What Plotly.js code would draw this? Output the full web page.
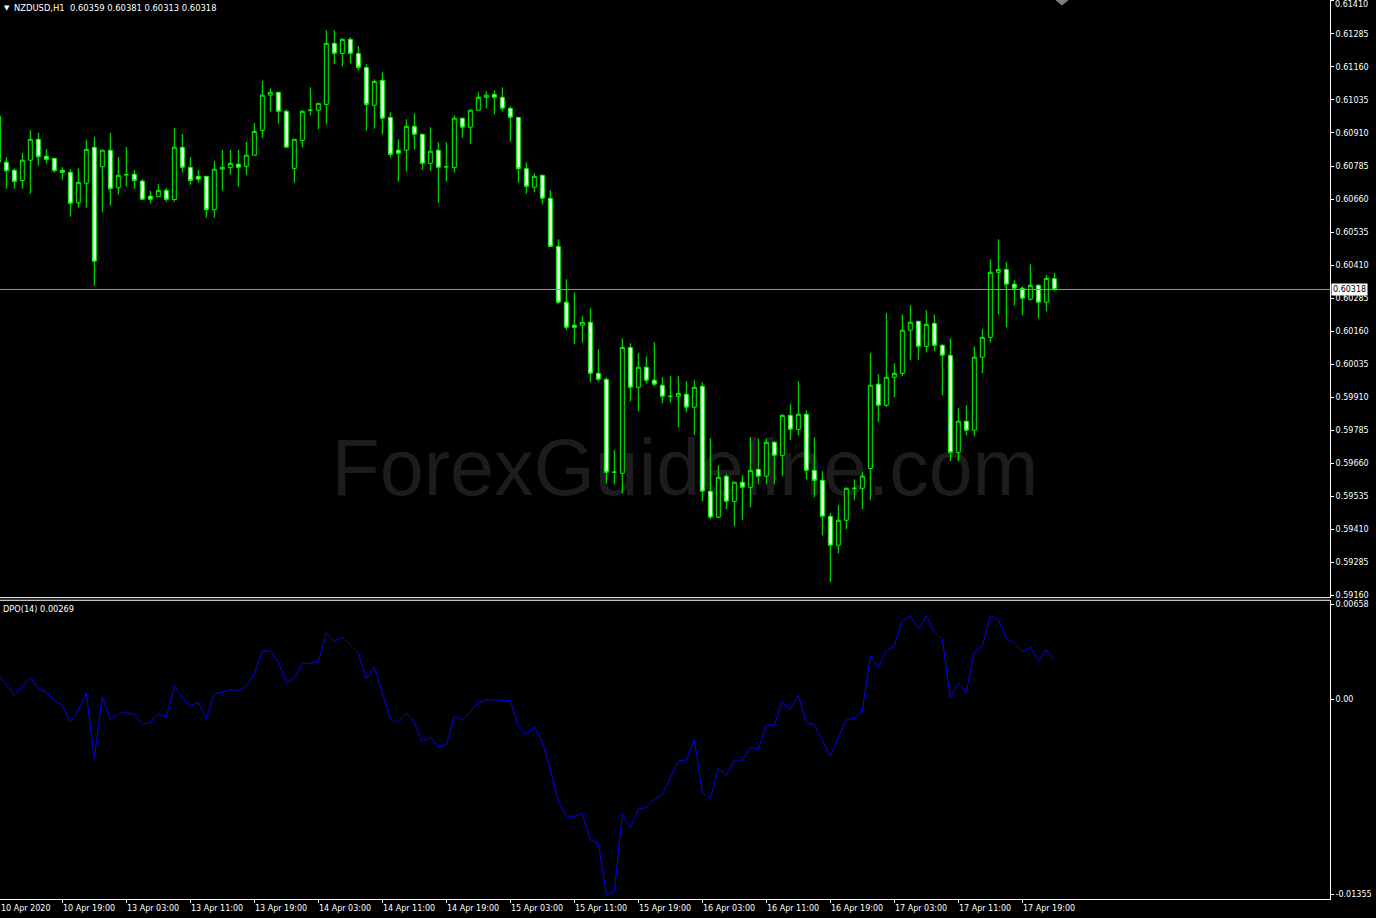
<!DOCTYPE html>
<html>
<head>
<meta charset="utf-8">
<script src="https://cdn.plot.ly/plotly-3.0.1.min.js"></script>
<style>
html,body{margin:0;padding:0;background:#000;overflow:hidden;}
#chart{width:1376px;height:918px;}
</style>
</head>
<body>
<div id="chart"></div>
<script>
// ---- data ----
const symbolTitle = 'NZDUSD,H1';
const lastQuote = ['0.60359', '0.60381', '0.60313', '0.60318'];
const indicatorName = 'DPO(14)';
const indicatorLast = '0.00269';
const firstDateLabel = '10 Apr 2020';

// trading sessions shown (day label, first hour, last hour)
const sessions = [['10 Apr', 11, 23], ['13 Apr', 0, 23], ['14 Apr', 0, 23], ['15 Apr', 0, 23], ['16 Apr', 0, 23], ['17 Apr', 0, 23]];

const openP = [0.60974,0.60799,0.60769,0.60730,0.60807,0.60886,0.60822,0.60814,0.60769,0.60761,0.60646,0.60720,0.60856,
0.60782,0.60845,0.60703,0.60752,0.60754,0.60728,0.60671,0.60669,0.60693,0.60658,0.60856,0.60780,0.60746,0.60746,0.60620,
0.60773,0.60780,0.60792,0.60784,0.60826,0.60920,0.61053,0.61064,0.60992,0.60776,0.60882,0.60996,0.60996,0.61018,0.61249,
0.61211,0.61264,0.61211,0.61158,0.61015,0.61109,0.60969,0.60845,0.60845,0.60935,0.60905,0.60795,0.60845,0.60782,0.60780,
0.60966,0.60932,0.60996,0.61045,0.61056,0.61045,0.61003,0.60969,0.60775,0.60705,0.60750,0.60663,0.60481,0.60270,0.60183,
0.60183,0.60194,0.60001,0.59978,0.59627,0.59623,0.60099,0.59948,0.60024,0.59975,0.59956,0.59914,0.59914,0.59922,0.59873,
0.59952,0.59555,0.59457,0.59612,0.59517,0.59589,0.59570,0.59638,0.59612,0.59740,0.59691,0.59842,0.59789,0.59846,0.59634,
0.59596,0.59460,0.59351,0.59445,0.59566,0.59566,0.59641,0.59960,0.59880,0.59986,0.60001,0.60164,0.60198,0.60103,0.60190,
0.60107,0.60069,0.59702,0.59820,0.59786,0.60062,0.60137,0.60383,0.60394,0.60338,0.60323,0.60281,0.60334,0.60270,0.60359];
const highP = [0.60985,0.60819,0.60776,0.60834,0.60921,0.60910,0.60849,0.60814,0.60781,0.60773,0.60776,0.60883,0.60895,
0.60845,0.60910,0.60819,0.60857,0.60770,0.60736,0.60691,0.60717,0.60702,0.60929,0.60906,0.60819,0.60770,0.60746,0.60804,
0.60846,0.60846,0.60846,0.60876,0.60948,0.61107,0.61079,0.61064,0.60999,0.60886,0.60996,0.61083,0.61022,0.61298,0.61298,
0.61268,0.61272,0.61239,0.61170,0.61113,0.61140,0.60988,0.60886,0.60962,0.60984,0.60905,0.60932,0.60875,0.60875,0.60977,
0.60966,0.60999,0.61064,0.61068,0.61071,0.61083,0.61011,0.60969,0.60799,0.60758,0.60750,0.60693,0.60508,0.60357,0.60307,
0.60217,0.60247,0.60092,0.59986,0.59710,0.60133,0.60115,0.60077,0.60065,0.60118,0.59986,0.59990,0.59990,0.59971,0.59975,
0.59967,0.59755,0.59653,0.59619,0.59589,0.59615,0.59759,0.59755,0.59755,0.59744,0.59846,0.59884,0.59971,0.59861,0.59759,
0.59630,0.59472,0.59502,0.59570,0.59600,0.59627,0.60077,0.59997,0.60228,0.60039,0.60224,0.60258,0.60198,0.60239,0.60224,
0.60111,0.60133,0.59869,0.59880,0.60103,0.60168,0.60432,0.60508,0.60421,0.60353,0.60330,0.60413,0.60338,0.60372,0.60381];
const lowP = [0.60790,0.60699,0.60699,0.60699,0.60680,0.60786,0.60794,0.60760,0.60733,0.60593,0.60627,0.60627,0.60332,
0.60609,0.60635,0.60677,0.60707,0.60699,0.60659,0.60643,0.60669,0.60650,0.60650,0.60760,0.60714,0.60722,0.60590,0.60590,
0.60692,0.60752,0.60707,0.60752,0.60826,0.60892,0.60991,0.60945,0.60856,0.60722,0.60856,0.60977,0.60924,0.60943,0.61170,
0.61162,0.61174,0.61147,0.60919,0.60926,0.60904,0.60818,0.60726,0.60764,0.60847,0.60771,0.60767,0.60646,0.60726,0.60760,
0.60892,0.60869,0.60996,0.61003,0.60981,0.60992,0.60877,0.60722,0.60680,0.60686,0.60640,0.60478,0.60262,0.60164,0.60111,
0.60117,0.59967,0.59971,0.59585,0.59581,0.59547,0.59895,0.59857,0.59963,0.59952,0.59888,0.59891,0.59797,0.59854,0.59767,
0.59517,0.59449,0.59453,0.59487,0.59422,0.59445,0.59494,0.59581,0.59581,0.59581,0.59612,0.59748,0.59767,0.59600,0.59532,
0.59388,0.59211,0.59320,0.59411,0.59521,0.59487,0.59521,0.59816,0.59873,0.59910,0.59990,0.60050,0.60052,0.60080,0.60084,
0.59918,0.59668,0.59668,0.59767,0.59763,0.60001,0.60118,0.60224,0.60175,0.60258,0.60220,0.60277,0.60209,0.60236,0.60313];
const closeP = [0.60799,0.60767,0.60726,0.60807,0.60886,0.60820,0.60810,0.60767,0.60761,0.60644,0.60723,0.60848,0.60425,
0.60845,0.60699,0.60750,0.60752,0.60730,0.60659,0.60659,0.60693,0.60658,0.60856,0.60780,0.60730,0.60735,0.60620,0.60773,
0.60780,0.60795,0.60780,0.60826,0.60916,0.61053,0.61064,0.60992,0.60856,0.60886,0.60992,0.60996,0.61022,0.61249,0.61211,
0.61264,0.61211,0.61158,0.61018,0.61105,0.60966,0.60829,0.60833,0.60935,0.60905,0.60795,0.60841,0.60780,0.60782,0.60966,
0.60932,0.60996,0.61045,0.61053,0.61045,0.61003,0.60969,0.60775,0.60708,0.60746,0.60663,0.60481,0.60270,0.60175,0.60175,
0.60194,0.60001,0.59978,0.59627,0.59627,0.60099,0.59948,0.60024,0.59975,0.59960,0.59914,0.59914,0.59925,0.59873,0.59948,
0.59555,0.59457,0.59608,0.59517,0.59589,0.59570,0.59634,0.59612,0.59740,0.59691,0.59842,0.59789,0.59846,0.59634,0.59596,
0.59460,0.59351,0.59445,0.59566,0.59566,0.59612,0.59956,0.59880,0.59986,0.60001,0.60164,0.60194,0.60103,0.60186,0.60107,
0.60069,0.59702,0.59820,0.59786,0.60062,0.60137,0.60383,0.60394,0.60338,0.60323,0.60285,0.60334,0.60270,0.60360,0.60318];

const dpoValues = [0.00167,0.00102,0.00023,0.00090,0.00152,0.00071,0.00047,-0.00010,-0.00041,-0.00161,-0.00077,0.00043,-0.00412,
0.00019,-0.00144,-0.00101,-0.00094,-0.00108,-0.00173,-0.00165,-0.00101,-0.00125,0.00090,0.00007,-0.00048,-0.00024,-0.00137,
0.00038,0.00047,0.00066,0.00054,0.00090,0.00174,0.00334,0.00334,0.00258,0.00114,0.00143,0.00248,0.00248,0.00258,0.00458,
0.00401,0.00430,0.00377,0.00317,0.00143,0.00219,0.00043,-0.00137,-0.00161,-0.00096,-0.00161,-0.00297,-0.00263,-0.00333,
-0.00316,-0.00120,-0.00144,-0.00089,-0.00024,-0.00005,-0.00005,-0.00010,-0.00013,-0.00185,-0.00244,-0.00192,-0.00297,
-0.00490,-0.00703,-0.00813,-0.00813,-0.00794,-0.00978,-0.01000,-0.01355,-0.01339,-0.00799,-0.00894,-0.00761,-0.00753,
-0.00694,-0.00663,-0.00550,-0.00431,-0.00424,-0.00280,-0.00646,-0.00689,-0.00476,-0.00531,-0.00424,-0.00424,-0.00335,
-0.00347,-0.00177,-0.00180,-0.00024,-0.00072,0.00028,-0.00163,-0.00177,-0.00287,-0.00395,-0.00268,-0.00144,-0.00132,
-0.00084,0.00298,0.00222,0.00334,0.00370,0.00544,0.00578,0.00487,0.00578,0.00466,0.00418,0.00007,0.00109,0.00047,
0.00325,0.00370,0.00578,0.00549,0.00420,0.00389,0.00329,0.00360,0.00262,0.00346,0.00269];

const timeTicks = ['10 Apr 19:00','13 Apr 03:00','13 Apr 11:00','13 Apr 19:00','14 Apr 03:00','14 Apr 11:00','14 Apr 19:00',
'15 Apr 03:00','15 Apr 11:00','15 Apr 19:00','16 Apr 03:00','16 Apr 11:00','16 Apr 19:00','17 Apr 03:00','17 Apr 11:00','17 Apr 19:00'];
const priceTicks = [0.61410,0.61285,0.61160,0.61035,0.60910,0.60785,0.60660,0.60535,0.60410,0.60285,0.60160,0.60035,
0.59910,0.59785,0.59660,0.59535,0.59410,0.59285,0.59160];
const dpoTicks = [0.00658, 0.00, -0.01355];
const dpoTickText = ['0.00658', '0.00', '-0.01355'];
const currentPrice = 0.60318;
const watermark = 'ForexGuideline.com';

// ---- bar time categories ----
const times = [];
sessions.forEach(s => {
  for (let h = s[1]; h <= s[2]; h++) times.push(s[0] + ' ' + String(h).padStart(2, '0') + ':00');
});

const FONT = 'DejaVu Sans, Tahoma, sans-serif';
const GREEN = '#00FF00';

const traces = [
  {
    type: 'candlestick', x: times, open: openP, high: highP, low: lowP, close: closeP,
    xaxis: 'x', yaxis: 'y', whiskerwidth: 0,
    increasing: {line: {color: GREEN, width: 1}, fillcolor: '#000000'},
    decreasing: {line: {color: GREEN, width: 1}, fillcolor: '#FFFFFF'},
    hoverinfo: 'skip', showlegend: false
  },
  {
    type: 'scatter', mode: 'lines', x: times, y: dpoValues, xaxis: 'x', yaxis: 'y2',
    line: {color: '#0000FF', width: 1}, hoverinfo: 'skip', showlegend: false
  }
];

const PRICE_DOM = [0.3352, 1];
const DPO_DOM = [0, 0.3323];

// the top price label sits at the very edge; draw it just inside the page
const topPrice = priceTicks[0];
const priceTickText = priceTicks.map(v => v === topPrice ? '' : v.toFixed(5));

const annotations = [
  {xref: 'paper', yref: 'paper', x: 0, y: 1, xanchor: 'left', yanchor: 'top', xshift: 2, yshift: -2,
   text: '▼', showarrow: false, font: {family: FONT, size: 7, color: '#FFFFFF'}},
  {xref: 'paper', yref: 'paper', x: 0, y: 1, xanchor: 'left', yanchor: 'top', xshift: 12, yshift: -1,
   text: symbolTitle + '  ' + lastQuote.join(' '), showarrow: false, font: {family: FONT, size: 8.4, color: '#FFFFFF'}},
  {xref: 'paper', yref: 'paper', x: 0, y: DPO_DOM[1], xanchor: 'left', yanchor: 'top', xshift: 1, yshift: -2,
   text: indicatorName + ' ' + indicatorLast, showarrow: false, font: {family: FONT, size: 8.2, color: '#FFFFFF'}},
  {xref: 'paper', yref: 'y', x: 1, y: currentPrice, xanchor: 'left', yanchor: 'middle', xshift: 1,
   text: currentPrice.toFixed(5), showarrow: false, bgcolor: '#FFFFFF', borderpad: 1,
   font: {family: FONT, size: 8, color: '#000000'}},
  {xref: 'paper', yref: 'paper', x: 1, y: 1, xanchor: 'left', yanchor: 'top', xshift: 4, yshift: 1,
   text: topPrice.toFixed(5), showarrow: false, borderpad: 0,
   font: {family: FONT, size: 8, color: '#FFFFFF'}},
  {xref: 'paper', yref: 'paper', x: 0, y: 0, xanchor: 'left', yanchor: 'top', xshift: -1, yshift: -3,
   text: firstDateLabel, showarrow: false, font: {family: FONT, size: 8, color: '#FFFFFF'}}
];
timeTicks.forEach(t => {
  annotations.push({xref: 'x', yref: 'paper', x: times.indexOf(t), y: 0, xanchor: 'left', yanchor: 'top',
    xshift: -1, yshift: -3, text: t, showarrow: false, font: {family: FONT, size: 8, color: '#FFFFFF'}});
});

const shapes = [
  {type: 'rect', xref: 'paper', yref: 'paper', x0: 0.15, x1: 0.88, y0: 0.44, y1: 0.535, layer: 'below',
   line: {width: 0}, fillcolor: 'rgba(0,0,0,0)',
   label: {text: watermark, textposition: 'middle center',
     font: {family: 'Liberation Sans, Arial, sans-serif', size: 79, color: '#1c1c1c'}}},
  {type: 'line', xref: 'paper', yref: 'y', x0: 0, x1: 1, y0: currentPrice, y1: currentPrice,
   line: {color: '#8c96a0', width: 1}},
  {type: 'line', xref: 'paper', yref: 'paper', x0: 0, x1: 1, y0: PRICE_DOM[0], y1: PRICE_DOM[0],
   line: {color: '#FFFFFF', width: 1}},
  {type: 'line', xref: 'paper', yref: 'paper', x0: 0, x1: 1, y0: DPO_DOM[1], y1: DPO_DOM[1],
   line: {color: '#FFFFFF', width: 1}},
  // chart-shift marker at the top edge
  {type: 'path', xref: 'paper', yref: 'paper', path: 'M 0.7940,1 L 0.8030,1 L 0.7985,0.9944 Z',
   fillcolor: '#7f7f7f', line: {color: '#7f7f7f', width: 1}}
];

const layout = {
  width: 1376, height: 918,
  margin: {l: 0, r: 46, t: 0, b: 19, pad: 0},
  paper_bgcolor: '#000000', plot_bgcolor: '#000000',
  showlegend: false,
  font: {family: FONT, size: 8, color: '#FFFFFF'},
  xaxis: {
    type: 'category', range: [0.2125, 166.46], anchor: 'y2',
    showgrid: false, zeroline: false, showline: true, linecolor: '#FFFFFF', linewidth: 1,
    ticks: 'outside', ticklen: 3, tickcolor: '#FFFFFF', tickvals: timeTicks, showticklabels: false,
    rangeslider: {visible: false}, fixedrange: true
  },
  yaxis: {
    domain: PRICE_DOM, range: [0.591524, 0.614129], side: 'right', anchor: 'x',
    showgrid: false, zeroline: false, showline: true, linecolor: '#FFFFFF', linewidth: 1,
    ticks: 'outside', ticklen: 3, tickcolor: '#FFFFFF', ticklabeloverflow: 'allow',
    tickvals: priceTicks, ticktext: priceTickText,
    tickfont: {family: FONT, size: 8, color: '#FFFFFF'}, fixedrange: true
  },
  yaxis2: {
    domain: DPO_DOM, range: [-0.013873, 0.006857], side: 'right', anchor: 'x',
    showgrid: false, zeroline: false, showline: true, linecolor: '#FFFFFF', linewidth: 1,
    ticks: 'outside', ticklen: 3, tickcolor: '#FFFFFF', ticklabeloverflow: 'allow',
    tickvals: dpoTicks, ticktext: dpoTickText,
    tickfont: {family: FONT, size: 8, color: '#FFFFFF'}, fixedrange: true
  },
  annotations: annotations,
  shapes: shapes
};

Plotly.newPlot('chart', traces, layout, {displayModeBar: false, staticPlot: true});
</script>
</body>
</html>
